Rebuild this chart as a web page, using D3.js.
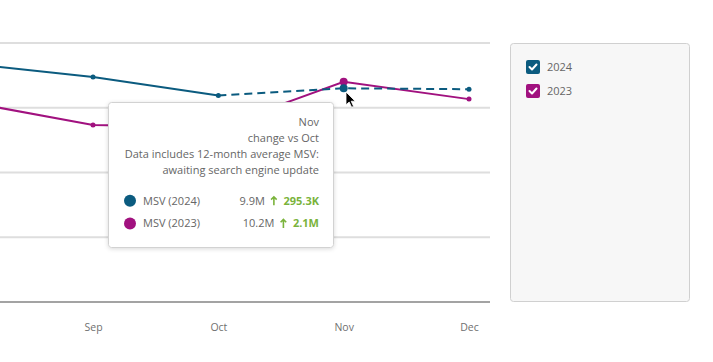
<!DOCTYPE html>
<html>
<head>
<meta charset="utf-8">
<script src="https://cdn.jsdelivr.net/npm/d3@7"></script>
<style>
body { margin:0; background:#fff; font-family:"Open Sans", sans-serif; }
svg { display:block; }
</style>
</head>
<body>
<div id="chart"></div>
<script>
// data (values in millions)
var months = ["Aug","Sep","Oct","Nov","Dec"];
var msv2024 = [11.05, 10.42, 9.57, 9.9, 9.86];
var msv2023 = [9.27, 8.2, 8.1, 10.2, 9.4];
var estimatedFrom = "Oct"; // 2024 is dashed from here on
var yTicks = [0, 3, 6, 9, 12];
var seriesNames = ["2024", "2023"];
var seriesColors = ["#0b5b7f", "#a1117f"];
var hoverMonth = "Nov";
var tipLines = ["Nov", "change vs Oct", "Data includes 12-month average MSV:", "awaiting search engine update"];
var tipValues = ["9.9M", "10.2M"];
var tipChanges = ["295.3K", "2.1M"];

var w = 713, h = 362;
var plot = {left:0, right:490, top:43, bottom:302};

var svg = d3.select("#chart").append("svg")
  .attr("width", w).attr("height", h);

var defs = svg.append("defs");
var f = defs.append("filter").attr("id", "shadow")
  .attr("x", "-10%").attr("y", "-10%").attr("width", "130%").attr("height", "130%");
f.append("feDropShadow").attr("dx", 0).attr("dy", 1).attr("stdDeviation", 2)
  .attr("flood-color", "#000").attr("flood-opacity", 0.15);

var x = d3.scalePoint().domain(months).range([-32.3, 469]);
var y = d3.scaleLinear().domain([0, 12]).range([plot.bottom, plot.top]);

// grid
svg.append("g").selectAll("line")
  .data(yTicks)
  .enter().append("line")
  .attr("x1", plot.left).attr("x2", plot.right)
  .attr("y1", function(d){ return y(d); })
  .attr("y2", function(d){ return y(d); })
  .attr("stroke", function(d){ return d == 0 ? "#a3a3a3" : "#dedede"; })
  .attr("stroke-width", 2);

// only label months that are in view (chart is scrolled)
var xAxis = d3.axisBottom(x).tickSize(0).tickPadding(22)
  .tickValues(months.filter(function(m){ return x(m) >= plot.left; }));
var gx = svg.append("g")
  .attr("transform", "translate(0," + plot.bottom + ")")
  .call(xAxis);
gx.select(".domain").remove();
gx.selectAll("text")
  .attr("fill", "#707070")
  .style("font-family", "'Open Sans', sans-serif")
  .style("font-size", "10.5px");

var line = d3.line()
  .x(function(d){ return x(d.m); })
  .y(function(d){ return y(d.v); });

function rows(vals) {
  return months.map(function(m, i){ return {m:m, v:vals[i]}; });
}

var cut = months.indexOf(estimatedFrom);
var d2024 = rows(msv2024), d2023 = rows(msv2023);

// 2023
svg.append("path").datum(d2023)
  .attr("d", line).attr("fill", "none")
  .attr("stroke", seriesColors[1]).attr("stroke-width", 2);

// 2024 actual + estimated
svg.append("path").datum(d2024.slice(0, cut + 1))
  .attr("d", line).attr("fill", "none")
  .attr("stroke", seriesColors[0]).attr("stroke-width", 2);
svg.append("path").datum(d2024.slice(cut))
  .attr("d", line).attr("fill", "none")
  .attr("stroke", seriesColors[0]).attr("stroke-width", 2)
  .attr("stroke-dasharray", "8,5");

[d2023, d2024].forEach(function(data, k){
  var col = seriesColors[k == 0 ? 1 : 0];
  svg.append("g").selectAll("circle")
    .data(data)
    .enter().append("circle")
    .attr("cx", function(d){ return x(d.m); })
    .attr("cy", function(d){ return y(d.v); })
    .attr("r", function(d){ return d.m == hoverMonth ? 4 : 2.5; })
    .attr("fill", col);
});

// tooltip
var tip = svg.append("g").attr("transform", "translate(108.5,102.5)");
tip.append("rect")
  .attr("width", 225).attr("height", 145).attr("rx", 3)
  .attr("fill", "#fff").attr("stroke", "#d2d2d2")
  .attr("filter", "url(#shadow)");
tip.selectAll("text.hdr")
  .data(tipLines)
  .enter().append("text")
  .attr("class", "hdr")
  .attr("x", 210.5)
  .attr("y", function(d, i){ return 19.5 + i * 16; })
  .attr("dy", "0.35em")
  .attr("text-anchor", "end")
  .attr("fill", "#666")
  .style("font-size", "11px")
  .text(function(d){ return d; });

seriesNames.forEach(function(s, i){
  var ry = 98.3 + i * 22.6;
  tip.append("circle").attr("cx", 21.5).attr("cy", ry).attr("r", 6)
    .attr("fill", seriesColors[i]);
  tip.append("text").attr("x", 34.5).attr("y", ry).attr("dy", "0.35em")
    .attr("fill", "#666").style("font-size", "11px")
    .text("MSV (" + s + ")");
  var ch = tip.append("text").attr("x", 210.5).attr("y", ry).attr("dy", "0.35em")
    .attr("text-anchor", "end").attr("fill", "#7ab33b")
    .style("font-size", "11px").style("font-weight", "bold")
    .text(tipChanges[i]);
  var chStart = 210.5 - ch.node().getComputedTextLength();
  // up arrow
  var ax = chStart - 9.5;
  tip.append("path")
    .attr("d", "M" + ax + "," + (ry - 4) + " L" + ax + "," + (ry + 4.5) +
      " M" + (ax - 2.8) + "," + (ry - 1.2) + " L" + ax + "," + (ry - 4) + " L" + (ax + 2.8) + "," + (ry - 1.2))
    .attr("fill", "none").attr("stroke", "#7ab33b").attr("stroke-width", 1.6);
  tip.append("text").attr("x", ax - 9).attr("y", ry).attr("dy", "0.35em")
    .attr("text-anchor", "end").attr("fill", "#666").style("font-size", "11px")
    .text(tipValues[i]);
});

// cursor
svg.append("path")
  .attr("transform", "translate(346,92) scale(0.8)")
  .attr("d", "M0,0 L0,16 L4,12.5 L7,19 L9.5,18 L6.5,11.5 L11.5,11.5 Z")
  .attr("fill", "#000").attr("stroke", "#fff").attr("stroke-width", 1);

// legend
var leg = svg.append("g").attr("transform", "translate(510.5,43.5)");
leg.append("rect").attr("width", 179).attr("height", 258).attr("rx", 3)
  .attr("fill", "#f7f7f7").attr("stroke", "#d0d0d0");
seriesNames.forEach(function(s, i){
  var g = leg.append("g").attr("transform", "translate(15.5," + (16.5 + i * 24) + ")");
  g.append("rect").attr("width", 14).attr("height", 14).attr("rx", 2)
    .attr("fill", seriesColors[i]);
  g.append("path").attr("d", "M3.5,7 L6,9.5 L10.5,4.5")
    .attr("fill", "none").attr("stroke", "#fff").attr("stroke-width", 2)
    .attr("stroke-linecap", "round").attr("stroke-linejoin", "round");
  g.append("text").attr("x", 21).attr("y", 7).attr("dy", "0.35em")
    .attr("fill", "#666").style("font-size", "11px").text(s);
});
</script>
</body>
</html>
